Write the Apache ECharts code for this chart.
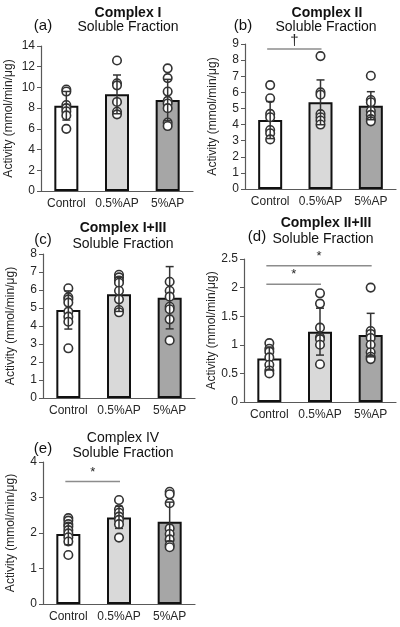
<!DOCTYPE html>
<html>
<head>
<meta charset="utf-8">
<script src="https://cdn.jsdelivr.net/npm/echarts@6/dist/echarts.min.js"></script>
<style>
html,body{margin:0;padding:0;background:#fff;}
#chart{width:400px;height:627px;}
</style>
</head>
<body>
<div id="chart"></div>
<script>
// ---------- data ----------
const categories = ['Control', '0.5%AP', '5%AP'];
const yAxisName = 'Activity (mmol/min/μg)';
const subTitle = 'Soluble Fraction';

// (a) Complex I
const aMean = [8.23, 9.33, 8.78];
const aSD = [1.38, 1.87, 2.0];
const aControl = [9.8, 9.6, 8.3, 8.0, 7.7, 7.3, 6.0];
const aAP05 = [12.6, 10.4, 10.2, 8.6, 7.65, 7.4];
const aAP5 = [11.84, 10.9, 9.6, 8.7, 8.45, 8.0, 6.6, 6.27];
const aSig = [];
const aTicks = [0, 14, 2];

// (b) Complex II
const bMean = [4.28, 5.38, 5.17];
const bSD = [1.15, 1.39, 0.87];
const bControl = [6.45, 5.63, 4.66, 4.45, 3.66, 3.46, 3.08];
const bAP05 = [8.25, 6.0, 5.85, 4.65, 4.45, 4.25, 4.0];
const bAP5 = [7.03, 5.52, 5.38, 4.84, 4.6, 4.34, 4.2];
const bSig = [[0, 1, 8.69, '†']];
const bTicks = [0, 9, 1];

// (c) Complex I+III
const cMean = [4.89, 5.76, 5.57];
const cSD = [1.06, 0.95, 1.73];
const cControl = [6.1, 5.6, 5.48, 5.3, 4.8, 4.52, 4.24, 2.76];
const cAP05 = [6.85, 6.7, 6.52, 6.4, 5.96, 5.48, 4.89, 4.76];
const cAP5 = [6.46, 5.96, 5.63, 5.07, 4.93, 4.37, 3.2];
const cSig = [];
const cTicks = [0, 8, 1];

// (d) Complex II+III
const dMean = [0.76, 1.23, 1.17];
const dSD = [0.2, 0.41, 0.38];
const dControl = [1.03, 0.93, 0.88, 0.78, 0.65, 0.55, 0.5];
const dAP05 = [1.9, 1.72, 1.3, 1.13, 1.1, 1.0, 0.66];
const dAP5 = [2.0, 1.24, 1.19, 1.12, 1.0, 0.87, 0.79, 0.75];
const dSig = [[0, 2, 2.38, '*'], [0, 1, 2.06, '*']];
const dTicks = [0, 2.5, 0.5];

// (e) Complex IV
const eMean = [1.97, 2.44, 2.32];
const eSD = [0.3, 0.31, 0.55];
const eControl = [2.42, 2.35, 2.25, 2.18, 2.08, 1.99, 1.88, 1.76, 1.38];
const eAP05 = [2.93, 2.67, 2.57, 2.46, 2.37, 2.25, 1.87];
const eAP5 = [3.16, 3.09, 2.84, 2.13, 1.97, 1.82, 1.66, 1.6];
const eSig = [[0, 1, 3.45, '*']];
const eTicks = [0, 4, 1];

const panelTitles = ['Complex I', 'Complex II', 'Complex I+III', 'Complex II+III', 'Complex IV'];
const panelTags = ['(a)', '(b)', '(c)', '(d)', '(e)'];

// ---------- layout / style ----------
const FONT = '"Liberation Sans", Arial, sans-serif';
const TXT = '#262626';
const AXC = '#595959';
const barColors = ['#ffffff', '#d9d9d9', '#a6a6a6'];

const panels = [
  {mean: aMean, sd: aSD, dots: [aControl, aAP05, aAP5], sig: aSig, ticks: aTicks,
   grid: {left: 41, top: 46, width: 152, height: 145},
   title: {x: 128, y: 13, bold: true}, sub: {x: 128, y: 27}, tag: {x: 43, y: 26}},
  {mean: bMean, sd: bSD, dots: [bControl, bAP05, bAP5], sig: bSig, ticks: bTicks,
   grid: {left: 245, top: 44, width: 151, height: 145},
   title: {x: 327, y: 13, bold: true}, sub: {x: 326, y: 27}, tag: {x: 243, y: 26}},
  {mean: cMean, sd: cSD, dots: [cControl, cAP05, cAP5], sig: cSig, ticks: cTicks,
   grid: {left: 43, top: 254, width: 152, height: 144},
   title: {x: 123, y: 228, bold: true}, sub: {x: 123, y: 244}, tag: {x: 43, y: 240}},
  {mean: dMean, sd: dSD, dots: [dControl, dAP05, dAP5], sig: dSig, ticks: dTicks,
   grid: {left: 244, top: 259, width: 152, height: 143},
   title: {x: 326, y: 223, bold: true}, sub: {x: 323, y: 239}, tag: {x: 257, y: 237}},
  {mean: eMean, sd: eSD, dots: [eControl, eAP05, eAP5], sig: eSig, ticks: eTicks,
   grid: {left: 43, top: 462, width: 152, height: 142},
   title: {x: 123, y: 438, bold: false}, sub: {x: 123, y: 453}, tag: {x: 43, y: 449}}
];

const grids = [], xAxes = [], yAxes = [], series = [], graphics = [];

panels.forEach((p, i) => {
  grids.push(Object.assign({containLabel: false}, p.grid));
  xAxes.push({
    type: 'category', gridIndex: i, data: categories,
    axisLine: {lineStyle: {color: AXC, width: 1.2}},
    axisTick: {show: false},
    axisLabel: {color: TXT, fontSize: 12, fontFamily: FONT, margin: 7, interval: 0}
  });
  yAxes.push({
    type: 'value', gridIndex: i, min: p.ticks[0], max: p.ticks[1], interval: p.ticks[2],
    name: yAxisName, nameLocation: 'middle', nameGap: 26,
    nameTextStyle: {color: TXT, fontSize: 12, fontFamily: FONT},
    axisLine: {show: true, lineStyle: {color: AXC, width: 1.2}},
    axisTick: {show: true, length: 4, lineStyle: {color: AXC}},
    axisLabel: {color: TXT, fontSize: 12, fontFamily: FONT, margin: 6},
    splitLine: {show: false}
  });
  // bars
  series.push({
    type: 'bar', xAxisIndex: i, yAxisIndex: i, barWidth: 24, z: 2,
    data: p.mean.map((v, k) => ({value: v, itemStyle: {color: barColors[k]}})),
    itemStyle: {borderColor: '#111', borderWidth: 2},
    emphasis: {disabled: true}, animation: false
  });
  // dots
  const pts = [];
  p.dots.forEach((arr, k) => arr.forEach(v => pts.push([k, v])));
  series.push({
    type: 'scatter', xAxisIndex: i, yAxisIndex: i, z: 3, data: pts,
    symbol: 'circle', symbolSize: 8.5,
    itemStyle: {color: '#ffffff', borderColor: '#333', borderWidth: 1.6, opacity: 1},
    emphasis: {disabled: true}, animation: false
  });
  // error bars
  series.push({
    type: 'custom', xAxisIndex: i, yAxisIndex: i, z: 4, animation: false,
    data: p.mean.map((m, k) => [k, m - p.sd[k], m + p.sd[k]]),
    renderItem: function (params, api) {
      const lo = api.coord([api.value(0), api.value(1)]);
      const hi = api.coord([api.value(0), api.value(2)]);
      const cw = 4;
      const st = {stroke: '#333', lineWidth: 1.5};
      return {type: 'group', children: [
        {type: 'line', shape: {x1: hi[0], y1: hi[1], x2: lo[0], y2: lo[1]}, style: st},
        {type: 'line', shape: {x1: hi[0] - cw, y1: hi[1], x2: hi[0] + cw, y2: hi[1]}, style: st},
        {type: 'line', shape: {x1: lo[0] - cw, y1: lo[1], x2: lo[0] + cw, y2: lo[1]}, style: st}
      ]};
    }
  });
  // significance
  if (p.sig.length) {
    series.push({
      type: 'custom', xAxisIndex: i, yAxisIndex: i, z: 5, animation: false, clip: false,
      data: p.sig.map(s => [s[0], s[1], s[2]]),
      renderItem: function (params, api) {
        const s = p.sig[params.dataIndex];
        const a = api.coord([api.value(0), api.value(2)]);
        const b = api.coord([api.value(1), api.value(2)]);
        const x1 = a[0] - 3, x2 = b[0] + 1;
        const dag = s[3] !== '*';
        return {type: 'group', children: [
          {type: 'line', shape: {x1: x1, y1: a[1], x2: x2, y2: a[1]},
           style: {stroke: '#8c8c8c', lineWidth: 1.5}},
          {type: 'text', x: (x1 + x2) / 2, y: a[1] - (dag ? 1 : 3),
           style: {text: s[3], fill: '#262626', fontSize: dag ? 15 : 13, fontFamily: FONT,
                   align: 'center', verticalAlign: 'bottom'}}
        ]};
      }
    });
  }
  graphics.push({type: 'text', x: p.title.x, y: p.title.y,
    style: {text: panelTitles[i], fill: '#111', fontSize: 14, fontWeight: p.title.bold ? 'bold' : 'normal',
            fontFamily: FONT, align: 'center', verticalAlign: 'middle'}});
  graphics.push({type: 'text', x: p.sub.x, y: p.sub.y,
    style: {text: subTitle, fill: '#111', fontSize: 14, fontFamily: FONT, align: 'center', verticalAlign: 'middle'}});
  graphics.push({type: 'text', x: p.tag.x, y: p.tag.y,
    style: {text: panelTags[i], fill: '#111', fontSize: 15, fontFamily: FONT, align: 'center', verticalAlign: 'middle'}});
});

const chart = echarts.init(document.getElementById('chart'), null, {renderer: 'canvas'});
chart.setOption({
  animation: false,
  backgroundColor: '#ffffff',
  grid: grids, xAxis: xAxes, yAxis: yAxes, series: series, graphic: graphics
});
</script>
</body>
</html>
